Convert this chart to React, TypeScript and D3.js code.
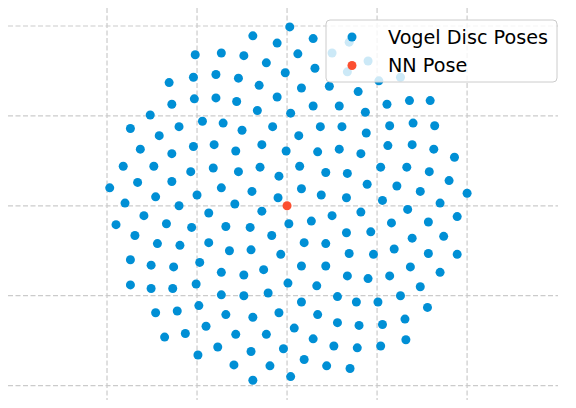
import React, { useEffect, useRef } from 'react';
import * as d3 from 'd3';

// Vogel disc poses (data units, grid step = 1)
const vogelX = [
  0.03, -0.38, -0.11, 0.29, 0.69, -1.02, -0.73, -0.48, -0.23, 0.12, 0.5, 0.9,
  -1.31, -1.04, -0.79, -0.54, -0.02, -0.31, 0.31, 0.16, 0.47, 0.67, 1.02, 1.26,
  -1.28, -1.03, -0.79, -0.56, -0.11, -0.33, 0.04, 0.29, 0.58, 0.79, 0.87, 1.11, 1.36, 1.59,
  -1.52, -1.74, -1.42, -1.2, -0.94, -0.71, -0.5, -0.16, 0.13, 0.37, 0.61, 0.88, 1.14, 1.4, 1.64,
  -1.63, -1.28, -1.04, -0.81, -0.57, -0.28, -0.01, 0.34, 0.58, 0.82, 1.12, 1.39, 1.63, 1.86,
  -1.82, -1.48, -1.07, -0.82, -0.54, -0.3, -0.09, 0.14, 0.43, 0.67, 0.89, 1.04, 1.33, 1.58, 1.8,
  -1.97, -1.66, -1.28, -1.0, -0.73, -1.8, -1.46, -1.2, -0.39, -0.1, 0.16, 0.38, 0.66, -0.58,
  1.22, 1.48, 2.0, 1.06, 1.7,
  -0.28, -0.87, -1.59, -1.34, -1.9, -1.06, -0.68, -0.41, 0.02, 0.27, 0.5, 0.82, 1.34, 1.89,
  1.16, 1.57, -0.17, 0.66, 0.93, 1.39, 1.74, -1.69,
  -1.44, -1.19, -0.87, -0.64, -0.4, -0.07, 0.19, 0.43, 0.69, 0.96, 1.19, 1.57, 1.89, -1.74,
  -1.51, -1.26, -0.97, -0.73, -0.48, -0.26, 0.16, 0.43, 0.67, 0.9, 1.14, 1.37, 1.7,
  -1.74, -1.51, -1.27, -1.01, -0.73, -0.48, -0.21, 0.01, 0.33, 0.56, 0.77, 1.01, 1.26, 1.48,
  0.16, -1.46, -1.22, -0.98, -0.68, -0.38, -0.09, 0.34, 0.56, 0.8, 1.06, 1.31, 1.56, 0.08, -0.9,
  -1.36, -1.13, -0.57, -0.23, 0.29, 0.52, 0.78, 1.04, 1.32, -0.77, -0.4, -0.04, -0.99,
  0.19, -0.59, -0.19, 0.44, 0.7, 0.04, -0.38,
];
const vogelY = [
  1.99, 1.89, 1.81, 1.86, 1.82, 1.68, 1.7, 1.67, 1.59, 1.69, 1.7, 1.61,
  1.37, 1.43, 1.46, 1.42, 1.48, 1.34, 1.53, 1.31, 1.33, 1.49, 1.39, 1.43,
  1.13, 1.19, 1.2, 1.16, 1.21, 1.06, 1.03, 1.11, 1.11, 1.27, 1.04, 1.13, 1.17, 1.17,
  1.01, 0.86, 0.78, 0.88, 0.94, 0.92, 0.84, 0.88, 0.78, 0.88, 0.88, 0.81, 0.89, 0.92, 0.89,
  0.63, 0.58, 0.66, 0.68, 0.61, 0.68, 0.61, 0.6, 0.63, 0.58, 0.67, 0.68, 0.63, 0.54,
  0.44, 0.44, 0.38, 0.42, 0.38, 0.43, 0.33, 0.44, 0.37, 0.36, 0.24, 0.43, 0.43, 0.38, 0.28,
  0.2, 0.26, 0.27, 0.12, 0.2, 0.03, 0.1, 0.0, 0.16, 0.09, 0.19, 0.12, 0.09, 0.02,
  0.22, 0.16, 0.14, 0.06, 0.03,
  -0.06, -0.08, -0.11, -0.2, -0.21, -0.24, -0.23, -0.24, -0.2, -0.17, -0.11, -0.07, -0.04, -0.12,
  -0.19, -0.18, -0.33, -0.3, -0.29, -0.36, -0.34, -0.33,
  -0.42, -0.44, -0.41, -0.5, -0.49, -0.54, -0.41, -0.42, -0.53, -0.54, -0.48, -0.53, -0.54, -0.6,
  -0.66, -0.68, -0.63, -0.74, -0.77, -0.71, -0.67, -0.67, -0.78, -0.81, -0.78, -0.68, -0.74,
  -0.88, -0.92, -0.92, -0.87, -0.99, -1.0, -0.97, -0.86, -0.89, -1.01, -1.07, -1.07, -1.0, -0.9,
  -1.07, -1.19, -1.17, -1.11, -1.21, -1.24, -1.19, -1.21, -1.3, -1.33, -1.32, -1.26, -1.13, -1.36, -1.34,
  -1.46, -1.42, -1.43, -1.43, -1.48, -1.56, -1.58, -1.56, -1.49, -1.57, -1.62, -1.59, -1.66,
  -1.71, -1.77, -1.78, -1.78, -1.81, -1.9, -1.94,
];
const nnX = [0];
const nnY = [0];
const gridTicks = [-2, -1, 0, 1, 2];
const xLim = [-3.1, 3.01];
const yLim = [-2.16, 2.2];
const legendLabels = ['Vogel Disc Poses', 'NN Pose'];

const BLUE = '#008fd5';
const RED = '#fc4f30';

export default function App() {
  const svgRef = useRef<SVGSVGElement>(null);

  useEffect(() => {
    const W = 576, H = 408;
    const plot = { left: 8, right: 558, top: 8, bottom: 400 };

    const svg = d3.select(svgRef.current);
    svg.selectAll('*').remove();

    const x = d3.scaleLinear().domain(xLim).range([plot.left, plot.right]);
    const y = d3.scaleLinear().domain(yLim).range([plot.bottom, plot.top]);

    svg.append('rect').attr('width', W).attr('height', H).attr('fill', '#fff');

    // dashed grid
    const grid = svg.append('g')
      .attr('stroke', '#cbcbcb')
      .attr('stroke-width', 1.2)
      .attr('stroke-dasharray', '5,2.5');
    grid.selectAll('line.v').data(gridTicks).join('line')
      .attr('class', 'v')
      .attr('x1', d => x(d)).attr('x2', d => x(d))
      .attr('y1', plot.top).attr('y2', plot.bottom);
    grid.selectAll('line.h').data(gridTicks).join('line')
      .attr('class', 'h')
      .attr('y1', d => y(d)).attr('y2', d => y(d))
      .attr('x1', plot.left).attr('x2', plot.right);

    const pts = vogelX.map((v, i) => [v, vogelY[i]]);
    svg.append('g').selectAll('circle').data(pts).join('circle')
      .attr('cx', d => x(d[0])).attr('cy', d => y(d[1]))
      .attr('r', 4.5).attr('fill', BLUE);

    const nn = nnX.map((v, i) => [v, nnY[i]]);
    svg.append('g').selectAll('circle').data(nn).join('circle')
      .attr('cx', d => x(d[0])).attr('cy', d => y(d[1]))
      .attr('r', 4.5).attr('fill', RED);

    // legend
    const lg = svg.append('g').attr('transform', 'translate(326,20)');
    lg.append('rect')
      .attr('width', 231).attr('height', 62).attr('rx', 4)
      .attr('fill', 'white').attr('fill-opacity', 0.8)
      .attr('stroke', '#cccccc').attr('stroke-width', 1);
    const colors = [BLUE, RED];
    legendLabels.forEach((lab, i) => {
      const cy = 17 + i * 28.5;
      lg.append('circle').attr('cx', 26).attr('cy', cy).attr('r', 4.5).attr('fill', colors[i]);
      lg.append('text')
        .attr('x', 62).attr('y', cy).attr('dy', '0.36em')
        .attr('font-family', 'DejaVu Sans, sans-serif')
        .attr('font-size', 19.2)
        .attr('fill', '#000')
        .text(lab);
    });
  }, []);

  return (
    <div style={{ position: 'fixed', left: 0, top: 0 }}>
      <svg ref={svgRef} width={576} height={408} style={{ display: 'block' }} />
    </div>
  );
}
